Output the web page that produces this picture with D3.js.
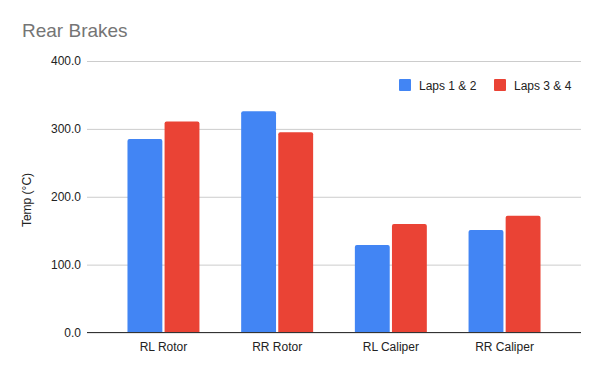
<!DOCTYPE html>
<html>
<head>
<meta charset="utf-8">
<script src="https://cdn.jsdelivr.net/npm/d3@7"></script>
<style>
  body { margin: 0; background: #fff; }
  text { font-family: "Liberation Sans", Arial, sans-serif; }
</style>
</head>
<body>
<script>
// data
let categories = ["RL Rotor", "RR Rotor", "RL Caliper", "RR Caliper"],
    seriesNames = ["Laps 1 & 2", "Laps 3 & 4"],
    laps12 = [285, 326, 129, 151],
    laps34 = [311, 295, 160, 172],
    yTicks = [0, 100, 200, 300, 400];

let colors = ["#4285f4", "#ea4335"];

let w = 600, h = 371,
    mLeft = 87, mRight = 581, mTop = 61, mBottom = 332.5;

let svg = d3.select("body")
    .append("svg")
    .attr("width", w)
    .attr("height", h);

let x = d3.scaleBand()
    .domain(categories)
    .range([mLeft, mRight])
    .paddingInner(0.367)
    .paddingOuter(0.356);

let xInner = d3.scaleBand()
    .domain(seriesNames)
    .range([0, x.bandwidth()])
    .paddingInner(0.06);

let y = d3.scaleLinear()
    .domain([0, 400])
    .range([mBottom, mTop]);

// title
svg.append("text")
    .attr("x", 22).attr("y", 37)
    .attr("font-size", "19px")
    .attr("fill", "#757575")
    .text("Rear Brakes");

// gridlines + y labels
let yAxis = d3.axisLeft(y)
    .tickValues(yTicks)
    .tickFormat(d3.format(".1f"))
    .tickSize(-(mRight - mLeft))
    .tickPadding(6);

let gy = svg.append("g")
    .attr("transform", `translate(${mLeft},0)`)
    .call(yAxis);
gy.select(".domain").remove();
gy.selectAll(".tick line").attr("stroke", "#cccccc");
gy.selectAll(".tick text")
    .attr("font-size", "12px")
    .attr("fill", "#222")
    .attr("font-family", "Liberation Sans, Arial, sans-serif");

// y title
svg.append("text")
    .attr("transform", "translate(31,200) rotate(-90)")
    .attr("text-anchor", "middle")
    .attr("font-size", "12px")
    .attr("fill", "#222")
    .text("Temp (°C)");

// bars
let rows = categories.map((c, i) => ({ cat: c, vals: [laps12[i], laps34[i]] }));

function topRounded(x0, y0, bw, bh, r) {
    r = Math.min(r, bh);
    return `M${x0},${y0 + bh}V${y0 + r}Q${x0},${y0} ${x0 + r},${y0}` +
           `H${x0 + bw - r}Q${x0 + bw},${y0} ${x0 + bw},${y0 + r}V${y0 + bh}Z`;
}

svg.selectAll("g.grp")
    .data(rows)
    .enter()
    .append("g")
        .attr("class", "grp")
        .attr("transform", d => `translate(${x(d.cat)},0)`)
    .selectAll("path")
    .data(d => d.vals.map((v, j) => ({ v: v, s: seriesNames[j], j: j })))
    .enter()
    .append("path")
        .attr("d", d => topRounded(xInner(d.s), y(d.v), xInner.bandwidth(), mBottom - y(d.v), 2))
        .attr("fill", d => colors[d.j]);

// x axis
let gx = svg.append("g")
    .attr("transform", `translate(0,${mBottom})`)
    .call(d3.axisBottom(x).tickSize(0).tickPadding(10));
gx.select(".domain").attr("stroke", "#333").attr("stroke-width", 1.2)
    .attr("d", `M${mLeft},0H${mRight}`);
gx.selectAll(".tick text")
    .attr("font-size", "12px")
    .attr("fill", "#222")
    .attr("font-family", "Liberation Sans, Arial, sans-serif");

// legend
let legendX = [399, 494];
let lg = svg.selectAll("g.legend")
    .data(seriesNames)
    .enter()
    .append("g")
        .attr("class", "legend")
        .attr("transform", (d, i) => `translate(${legendX[i]},79)`);
lg.append("rect")
    .attr("width", 12).attr("height", 12)
    .attr("rx", 1)
    .attr("fill", (d, i) => colors[i]);
lg.append("text")
    .attr("x", 20).attr("y", 10.5)
    .attr("font-size", "12px")
    .attr("fill", "#222")
    .text(d => d);
</script>
</body>
</html>
